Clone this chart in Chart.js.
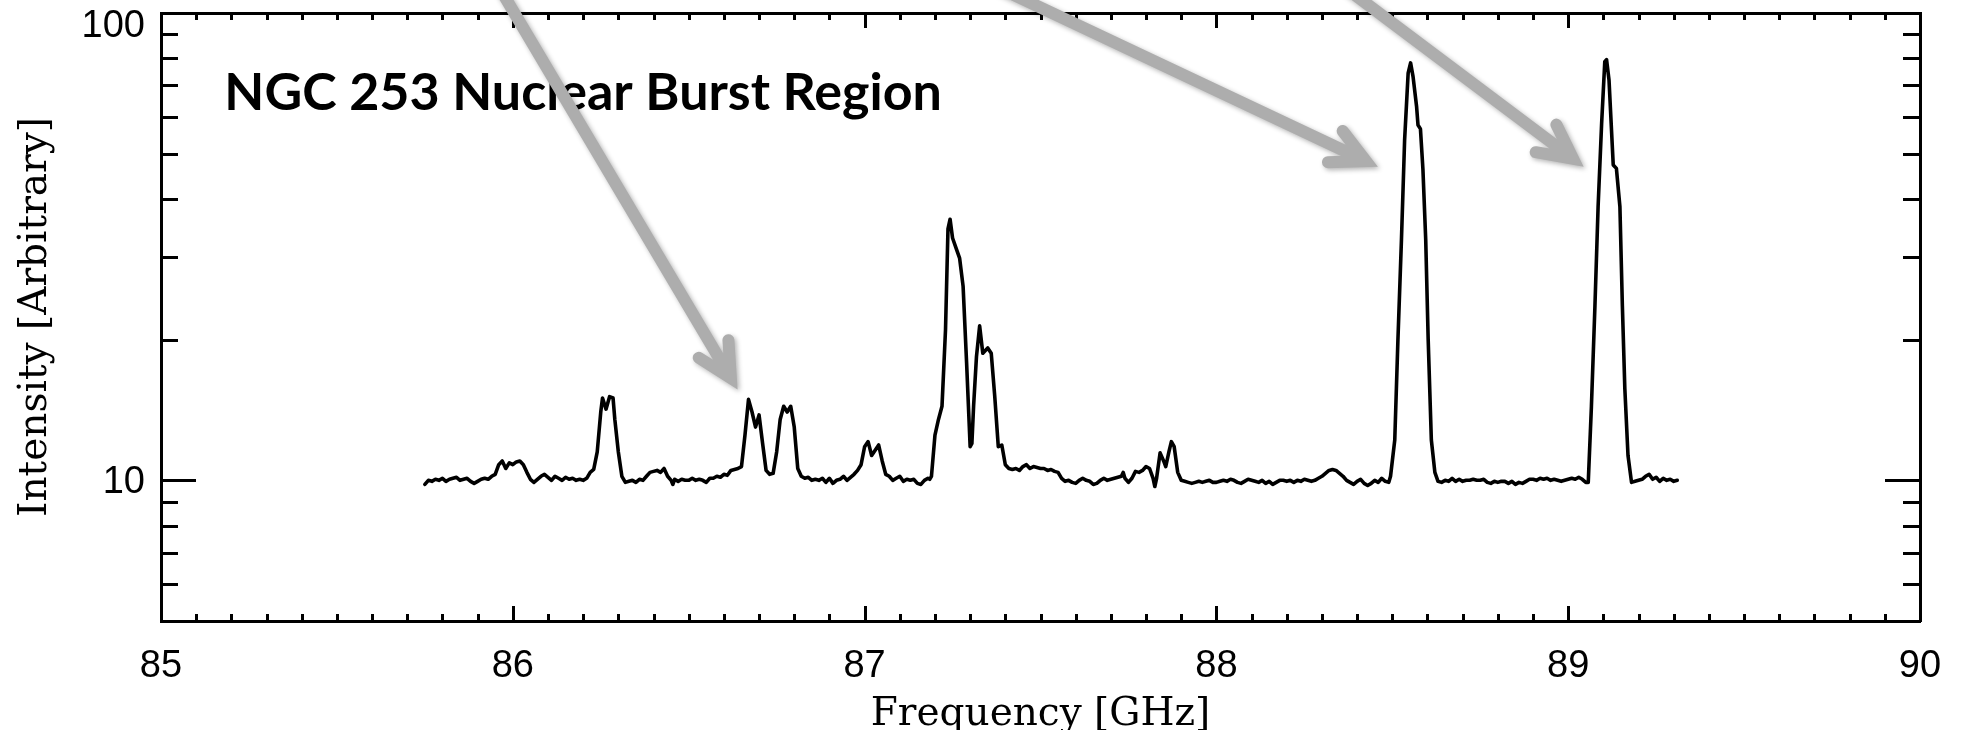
<!DOCTYPE html>
<html>
<head>
<meta charset="utf-8">
<script src="https://cdn.jsdelivr.net/npm/chart.js@4.4.1/dist/chart.umd.min.js"></script>
<style>
html,body{margin:0;padding:0;background:#ffffff;}
#wrap{width:1964px;height:730px;position:relative;overflow:hidden;}
canvas{display:block;}
</style>
</head>
<body>
<div id="wrap"><canvas id="c" width="1964" height="730"></canvas></div>
<script>
// ---- data ----
const frequencyGHz = [
85.75,85.76,85.77,85.78,85.79,85.80,85.81,85.82,85.83,85.84,
85.85,85.86,85.87,85.88,85.89,85.90,85.91,85.92,85.93,85.94,
85.95,85.96,85.97,85.98,85.99,86.00,86.01,86.02,86.03,86.04,
86.05,86.06,86.07,86.08,86.09,86.10,86.11,86.12,86.13,86.14,
86.15,86.16,86.17,86.18,86.19,86.20,86.21,86.22,86.23,86.24,
86.25,86.255,86.265,86.275,86.285,86.29,86.30,86.31,86.32,86.33,
86.34,86.35,86.36,86.37,86.38,86.39,86.40,86.41,86.42,86.43,
86.44,86.45,86.455,86.46,86.47,86.48,86.49,86.50,86.51,86.52,
86.53,86.54,86.55,86.56,86.57,86.58,86.59,86.60,86.61,86.62,
86.63,86.64,86.65,86.66,86.67,86.68,86.69,86.70,86.71,86.72,
86.73,86.74,86.75,86.76,86.77,86.78,86.79,86.80,86.81,86.82,
86.83,86.84,86.85,86.86,86.87,86.88,86.89,86.90,86.91,86.92,
86.93,86.94,86.95,86.96,86.97,86.98,86.99,87.00,87.01,87.02,
87.03,87.04,87.05,87.06,87.07,87.08,87.09,87.10,87.11,87.12,
87.13,87.14,87.15,87.16,87.17,87.18,87.185,87.19,87.20,87.21,
87.22,87.23,87.237,87.243,87.25,87.26,87.27,87.28,87.29,87.30,
87.305,87.31,87.318,87.327,87.336,87.35,87.36,87.37,87.38,87.39,
87.40,87.41,87.42,87.43,87.44,87.45,87.46,87.47,87.48,87.49,
87.50,87.51,87.52,87.53,87.54,87.55,87.56,87.57,87.58,87.59,
87.60,87.61,87.62,87.63,87.64,87.65,87.66,87.67,87.68,87.69,
87.70,87.71,87.72,87.73,87.735,87.74,87.75,87.76,87.77,87.78,
87.79,87.80,87.81,87.82,87.825,87.83,87.84,87.85,87.856,87.865,
87.872,87.88,87.89,87.90,87.91,87.92,87.93,87.94,87.95,87.96,
87.97,87.98,87.99,88.00,88.01,88.02,88.03,88.04,88.05,88.06,
88.07,88.08,88.09,88.10,88.11,88.12,88.13,88.14,88.15,88.16,
88.17,88.18,88.19,88.20,88.21,88.22,88.23,88.24,88.25,88.26,
88.27,88.28,88.29,88.30,88.31,88.32,88.33,88.34,88.35,88.36,
88.37,88.38,88.39,88.40,88.41,88.42,88.43,88.44,88.45,88.46,
88.47,88.48,88.49,88.495,88.507,88.516,88.526,88.535,88.545,88.552,
88.559,88.569,88.573,88.58,88.587,88.595,88.602,88.611,88.621,88.63,
88.64,88.65,88.66,88.67,88.68,88.69,88.70,88.71,88.72,88.73,
88.74,88.75,88.76,88.77,88.78,88.79,88.80,88.81,88.82,88.83,
88.84,88.85,88.86,88.87,88.88,88.89,88.90,88.91,88.92,88.93,
88.94,88.95,88.96,88.97,88.98,88.99,89.00,89.01,89.02,89.03,
89.04,89.05,89.057,89.066,89.076,89.085,89.095,89.104,89.109,89.116,
89.128,89.137,89.147,89.154,89.161,89.17,89.18,89.19,89.20,89.21,
89.22,89.23,89.24,89.25,89.26,89.27,89.28,89.29,89.30,89.31
];
const intensity = [
9.8,10.0,9.95,10.05,10.0,10.1,9.95,10.05,10.1,10.15,
10.0,10.05,10.1,9.95,9.85,9.95,10.05,10.1,10.05,10.2,
10.3,10.8,11.0,10.6,10.9,10.8,10.95,11.0,10.8,10.4,
10.05,9.9,10.05,10.2,10.3,10.15,10.0,10.2,10.1,10.0,
10.15,10.05,10.1,10.0,10.05,10.0,10.1,10.4,10.55,11.5,
14.0,15.0,14.2,15.1,15.0,13.5,11.5,10.2,9.9,9.95,
10.0,9.9,10.05,10.0,10.2,10.4,10.45,10.5,10.4,10.6,
10.2,10.0,9.8,10.05,9.95,10.05,10.0,10.0,10.1,10.0,
10.05,10.0,9.9,10.1,10.1,10.2,10.15,10.3,10.25,10.5,
10.55,10.6,10.7,12.5,14.9,14.0,13.0,13.8,12.0,10.5,
10.3,10.35,11.5,13.5,14.4,14.0,14.4,13.0,10.6,10.2,
10.1,10.15,10.0,10.05,10.0,10.1,9.9,10.1,9.85,10.0,
10.05,10.2,10.0,10.15,10.3,10.5,10.8,11.8,12.1,11.3,
11.6,11.9,11.0,10.3,10.2,10.0,10.1,10.2,9.95,10.05,
10.0,10.05,9.85,9.8,10.0,10.1,10.05,10.2,12.5,13.5,
14.4,21.0,34.5,36.2,33.0,31.4,29.9,26.0,17.8,11.8,
12.0,14.5,18.4,21.4,18.7,19.2,18.7,15.1,11.8,11.9,
10.8,10.6,10.55,10.6,10.5,10.7,10.8,10.6,10.7,10.65,
10.6,10.6,10.5,10.55,10.45,10.4,10.1,9.95,10.0,9.9,
9.85,10.0,10.1,10.0,9.95,9.8,9.85,10.0,10.1,10.0,
10.05,10.1,10.15,10.2,10.4,10.1,9.9,10.1,10.45,10.4,
10.5,10.7,10.6,10.1,9.7,10.1,11.45,11.0,10.7,11.5,
12.1,11.8,10.4,10.0,9.95,9.9,9.85,9.9,9.95,9.9,
9.95,10.0,9.9,9.9,9.95,10.0,9.95,10.05,10.0,9.9,
9.85,9.95,10.05,10.0,9.95,9.9,10.0,9.85,9.95,9.8,
9.9,10.0,10.0,9.95,10.0,9.9,10.0,9.95,10.05,10.0,
9.95,10.0,10.1,10.2,10.35,10.5,10.55,10.5,10.35,10.2,
10.0,9.9,9.8,9.95,10.05,9.85,9.75,9.85,10.0,9.9,
10.1,9.95,9.9,10.2,12.2,20.0,32.7,53.5,74.3,78.2,
73.1,63.1,57.6,56.5,46.4,32.7,20.0,12.2,10.4,9.95,
9.9,10.0,9.95,10.1,9.95,10.05,9.95,10.0,10.0,10.05,
10.0,10.0,10.05,9.9,9.85,9.95,9.9,9.95,9.95,9.85,
9.95,9.8,9.9,9.85,9.95,10.05,10.05,10.0,10.1,10.05,
10.1,10.0,10.05,10.0,9.95,10.0,10.05,10.1,10.05,10.15,
10.05,9.9,9.9,14.4,23.6,38.5,58.0,78.7,79.5,71.9,
47.3,46.5,38.5,23.6,15.7,11.3,9.9,9.95,10.0,10.05,
10.2,10.3,10.05,10.15,9.95,10.1,10.0,10.05,9.95,10.0
];
const xTickLabels = ['85','86','87','88','89','90'];
const yTickLabels = ['10','100'];
const chartTitle = 'NGC 253 Nuclear Burst Region';
const xAxisTitle = 'Frequency [GHz]';
const yAxisTitle = 'Intensity [Arbitrary]';

// ---- rendering ----
const points = frequencyGHz.map((f, i) => ({x: f, y: intensity[i]}));

function wholeSignificand(v) {
  const e = Math.floor(Math.log10(v) + 1e-9);
  const s = v / Math.pow(10, e);
  return Math.abs(s - Math.round(s)) < 1e-6;
}

const frameTicks = {
  id: 'frameTicks',
  afterDatasetsDraw(chart, args, o) {
    const {ctx, chartArea: a, scales: {x, y}} = chart;
    ctx.save();
    ctx.strokeStyle = '#000';
    ctx.lineWidth = o.width;
    ctx.lineCap = 'butt';
    x.ticks.forEach(t => {
      const px = Math.round(x.getPixelForValue(t.value)) + 0.5;
      const major = Math.abs(t.value - Math.round(t.value)) < 1e-6;
      const len = major ? o.xMajor : o.xMinor;
      ctx.beginPath();
      ctx.moveTo(px, a.bottom); ctx.lineTo(px, a.bottom - len);
      ctx.moveTo(px, a.top); ctx.lineTo(px, a.top + len);
      ctx.stroke();
    });
    y.ticks.forEach(t => {
      if (!wholeSignificand(t.value)) return;
      const py = Math.round(y.getPixelForValue(t.value)) + 0.5;
      const lg = Math.log10(t.value);
      const major = Math.abs(lg - Math.round(lg)) < 1e-6;
      const len = major ? o.yMajor : o.yMinor;
      ctx.beginPath();
      ctx.moveTo(a.left, py); ctx.lineTo(a.left + len, py);
      ctx.moveTo(a.right, py); ctx.lineTo(a.right - len, py);
      ctx.stroke();
    });
    ctx.restore();
  }
};

const annotations = {
  id: 'annotations',
  afterDatasetsDraw(chart, args, o) {
    const {ctx, scales: {x, y}} = chart;
    ctx.save();
    ctx.font = o.titleFont;
    ctx.fillStyle = '#000';
    ctx.textAlign = 'left';
    ctx.textBaseline = 'alphabetic';
    ctx.fillText(chartTitle, x.getPixelForValue(o.titleAt[0]), y.getPixelForValue(o.titleAt[1]));

    ctx.strokeStyle = o.arrowColor;
    ctx.lineWidth = o.arrowWidth;
    ctx.lineJoin = 'miter';
    ctx.miterLimit = 10;
    ctx.lineCap = 'round';
    ctx.shadowColor = 'rgba(0,0,0,0.30)';
    ctx.shadowBlur = 5;
    ctx.shadowOffsetX = 2;
    ctx.shadowOffsetY = 2;
    const sp = o.headAngle * Math.PI / 180;
    o.arrows.forEach(ar => {
      const vx = x.getPixelForValue(ar.tip[0]), vy = y.getPixelForValue(ar.tip[1]);
      const sx = x.getPixelForValue(ar.tail[0]), sy = y.getPixelForValue(ar.tail[1]);
      const ang = Math.atan2(sy - vy, sx - vx);
      const back = (o.arrowWidth / 2) / Math.sin(sp);
      const tx = vx + back * Math.cos(ang), ty = vy + back * Math.sin(ang);
      const h = o.headLen;
      ctx.beginPath();
      ctx.moveTo(sx, sy);
      ctx.lineTo(tx, ty);
      ctx.moveTo(tx + h * Math.cos(ang + sp), ty + h * Math.sin(ang + sp));
      ctx.lineTo(tx, ty);
      ctx.lineTo(tx + h * Math.cos(ang - sp), ty + h * Math.sin(ang - sp));
      ctx.stroke();
    });
    ctx.restore();
  }
};

const hiddenGrid = {display: true, drawOnChartArea: false, drawTicks: false};
const blackBorder = {display: true, color: '#000', width: 3};

new Chart(document.getElementById('c'), {
  type: 'line',
  data: {
    datasets: [{
      data: points,
      borderColor: '#000',
      borderWidth: 3.6,
      pointRadius: 0,
      tension: 0,
      fill: false,
      borderJoinStyle: 'round',
      borderCapStyle: 'round'
    }]
  },
  options: {
    responsive: false,
    animation: false,
    devicePixelRatio: 1,
    events: [],
    layout: {autoPadding: false, padding: {top: 13, right: 44, bottom: 0, left: 0}},
    plugins: {
      legend: {display: false},
      tooltip: {enabled: false},
      title: {display: false},
      frameTicks: {width: 3, xMajor: 15, xMinor: 7, yMajor: 35, yMinor: 17},
      annotations: {
        titleFont: 'bold 52px Lato',
        titleAt: [85.18, 62],
        arrowColor: '#adadad',
        arrowWidth: 12,
        headLen: 38,
        headAngle: 27,
        arrows: [
          {tip: [86.639, 15.65], tail: [85.942, 120]},
          {tip: [88.459, 46.9], tail: [87.310, 120]},
          {tip: [89.044, 46.9], tail: [88.322, 120]}
        ]
      }
    },
    scales: {
      x: {
        type: 'linear', position: 'bottom', min: 85, max: 90,
        ticks: {
          stepSize: 0.1, autoSkip: false, maxRotation: 0, minRotation: 0, padding: 0,
          color: '#000', font: {family: 'Liberation Sans', size: 38, lineHeight: 1},
          callback: v => {
            const s = String(Math.round(v));
            return (Math.abs(v - Math.round(v)) < 1e-6 && xTickLabels.includes(s)) ? s : '';
          }
        },
        grid: {display: true, drawOnChartArea: false, drawTicks: true, tickLength: 27, tickColor: 'rgba(0,0,0,0)'},
        border: blackBorder,
        title: {display: true, text: xAxisTitle, color: '#000',
                font: {family: 'DejaVu Serif', size: 39, lineHeight: 0.8}, padding: {top: 0, bottom: 0}},
        afterFit(s) { s.height = 109; }
      },
      y: {
        type: 'logarithmic', position: 'left', min: 5, max: 100,
        ticks: {
          autoSkip: false, padding: 0, labelOffset: 14, color: '#000',
          font: {family: 'Liberation Sans', size: 38, lineHeight: 24 / 38},
          callback: v => {
            const s = String(v);
            if (!yTickLabels.includes(s)) return '';
            return v === 10 ? [s, ''] : s;
          }
        },
        grid: {display: true, drawOnChartArea: false, drawTicks: true, tickLength: 16, tickColor: 'rgba(0,0,0,0)'},
        border: blackBorder,
        title: {display: true, text: yAxisTitle, color: '#000',
                font: {family: 'DejaVu Serif', size: 39, lineHeight: 1}, padding: {top: 16, bottom: 0}},
        afterFit(s) { s.width = 161; }
      },
      x2: {
        type: 'linear', position: 'top', min: 85, max: 90,
        ticks: {display: false}, grid: hiddenGrid, border: blackBorder
      },
      y2: {
        type: 'logarithmic', position: 'right', min: 5, max: 100,
        ticks: {display: false}, grid: hiddenGrid, border: blackBorder
      }
    }
  },
  plugins: [frameTicks, annotations]
});
</script>
</body>
</html>
